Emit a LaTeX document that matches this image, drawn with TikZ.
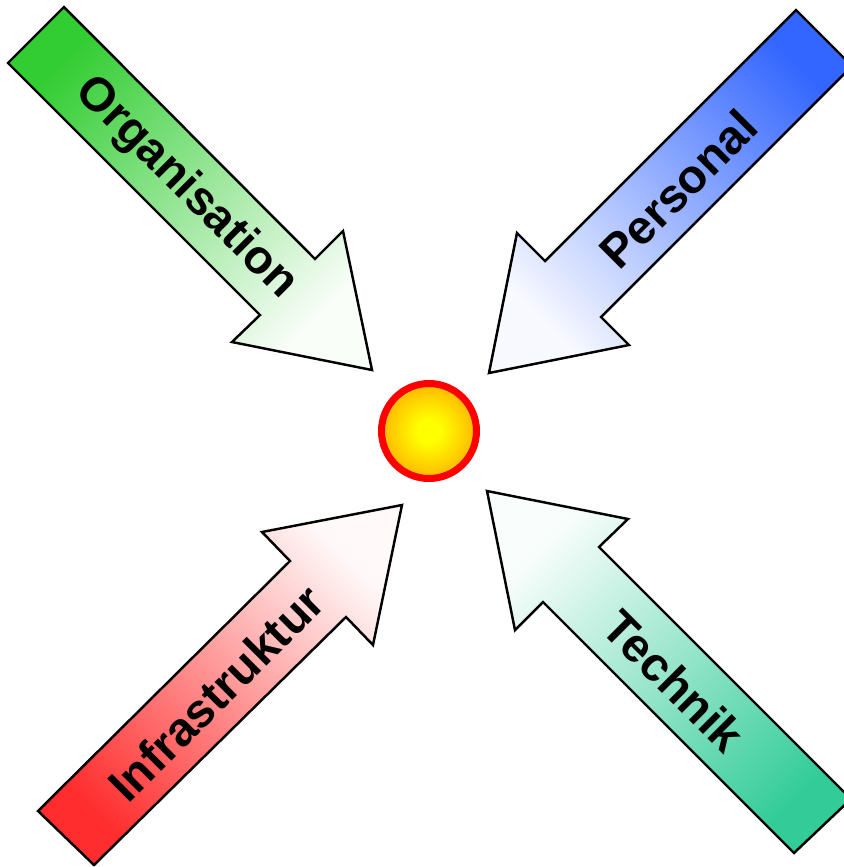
\documentclass[tikz,border=0pt]{standalone}
\usepackage{fontspec}
\setmainfont{Liberation Sans}
\definecolor{orggreen}{RGB}{50,205,50}
\definecolor{perblue}{RGB}{51,102,255}
\definecolor{infred}{RGB}{255,45,45}
\definecolor{techteal}{RGB}{51,204,153}
\definecolor{sunorange}{RGB}{255,120,0}
\definecolor{sunyellow}{RGB}{255,255,0}
\pgfdeclareradialshading{sunglow}{\pgfpoint{0bp}{0bp}}{color(0bp)=(sunyellow); color(6bp)=(sunyellow); color(42bp)=(sunorange); color(50bp)=(sunorange)}
\begin{document}
\begin{tikzpicture}[x=0.02cm,y=-0.02cm,
    bigarrow/.style={draw=black,line width=1.4pt,line join=miter},
    lbl/.style={font=\fontsize{27}{29}\selectfont\bfseries}]
  \useasboundingbox (0,0) rectangle (844,867);
  % vier Pfeile
  \shade[bigarrow,top color=orggreen,bottom color=orggreen!3!white,shading angle=45]
    (8,63) -- (64,7) -- (315,259) -- (343,231) -- (372,370) -- (232,342) -- (260,315) -- cycle;
  \shade[bigarrow,top color=perblue,bottom color=perblue!4!white,shading angle=-45]
    (796,10) -- (852,66) -- (601,317) -- (629,345) -- (489,373) -- (517,233) -- (545,261) -- cycle;
  \shade[bigarrow,top color=infred,bottom color=infred!3!white,shading angle=135]
    (38,811) -- (290,561) -- (262,532) -- (402,505) -- (373,645) -- (346,617) -- (94,865) -- cycle;
  \shade[bigarrow,top color=techteal,bottom color=techteal!3!white,shading angle=-135]
    (487,491) -- (628,519) -- (599,547) -- (851,799) -- (794,853) -- (543,602) -- (515,630) -- cycle;
  \node[lbl,rotate=-45] (orga) at (186,188) {Organisation};
  \node[lbl,rotate=45] (pers) at (678,189) {Personal};
  \node[lbl,rotate=45] (infra) at (216,693) {Infrastruktur};
  \node[lbl,rotate=-45] (tech) at (674,681) {Technik};
  % Mitte
  \node[circle,minimum size=1.9cm,inner sep=0pt,shading=sunglow,draw=red,line width=4pt] (core) at (429,431) {};
\end{tikzpicture}
\end{document}
